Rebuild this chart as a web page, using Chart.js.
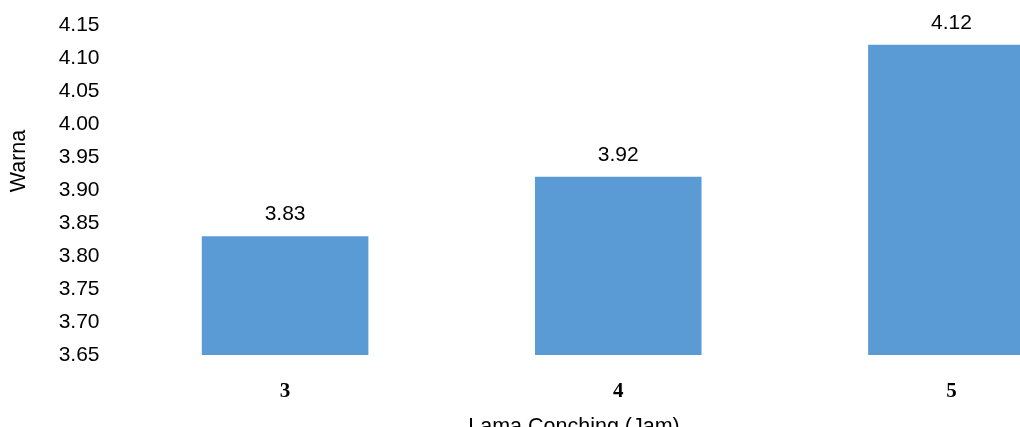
<!DOCTYPE html>
<html>
<head>
<meta charset="utf-8">
<script src="https://cdn.jsdelivr.net/npm/chart.js@4"></script>
<style>
  html, body { margin:0; padding:0; background:#fff; }
  #wrap { width:1020px; height:427px; overflow:hidden; }
</style>
</head>
<body>
<div id="wrap"><canvas id="chartCanvas" width="1120" height="427"></canvas></div>
<script>
const categories = ["3", "4", "5"];
const warna = [3.83, 3.92, 4.12];
const yMin = 3.65, yMax = 4.15, yStep = 0.05;

const FONT = "Arial, 'Liberation Sans', sans-serif";

// value labels above each bar
const valueLabels = {
  id: "valueLabels",
  afterDatasetsDraw(chart) {
    const ctx = chart.ctx;
    const meta = chart.getDatasetMeta(0);
    ctx.save();
    ctx.font = "21px " + FONT;
    ctx.fillStyle = "#000";
    ctx.textAlign = "center";
    ctx.textBaseline = "middle";
    meta.data.forEach((bar, i) => {
      ctx.fillText(warna[i].toFixed(2), bar.x, bar.y - 22);
    });
    ctx.restore();
  }
};

// axis titles
const axisTitles = {
  id: "axisTitles",
  afterDraw(chart) {
    const ctx = chart.ctx;
    ctx.save();
    ctx.font = "21.5px " + FONT;
    ctx.fillStyle = "#000";
    ctx.textAlign = "center";
    ctx.textBaseline = "alphabetic";
    ctx.fillText("Lama Conching (Jam)", 574, 433);
    ctx.translate(25, 161);
    ctx.rotate(-Math.PI / 2);
    ctx.fillText("Warna", 0, 0);
    ctx.restore();
  }
};

new Chart(document.getElementById("chartCanvas"), {
  type: "bar",
  data: {
    labels: categories,
    datasets: [{
      data: warna,
      backgroundColor: "#5B9BD5",
      barPercentage: 0.5,
      categoryPercentage: 1
    }]
  },
  options: {
    responsive: false,
    animation: false,
    layout: { padding: { top: 25, right: 2, left: 0, bottom: 0 } },
    plugins: { legend: { display: false }, tooltip: { enabled: false } },
    scales: {
      x: {
        grid: { display: false, drawTicks: false },
        border: { display: false },
        ticks: {
          padding: 24,
          color: "#000",
          font: { family: "'Times New Roman', 'Liberation Serif', serif", size: 21, weight: "bold" }
        },
        afterFit(s) { s.height = 72; }
      },
      y: {
        min: yMin,
        max: yMax,
        grid: { display: false, drawTicks: false },
        border: { display: false },
        ticks: {
          stepSize: yStep,
          padding: 19,
          color: "#000",
          font: { family: FONT, size: 21 },
          callback: v => v.toFixed(2)
        },
        afterFit(s) {
          s.width = 118.5;
          s.paddingTop = 0;
          s.paddingBottom = 0;
        }
      }
    }
  },
  plugins: [valueLabels, axisTitles]
});
</script>
</body>
</html>
